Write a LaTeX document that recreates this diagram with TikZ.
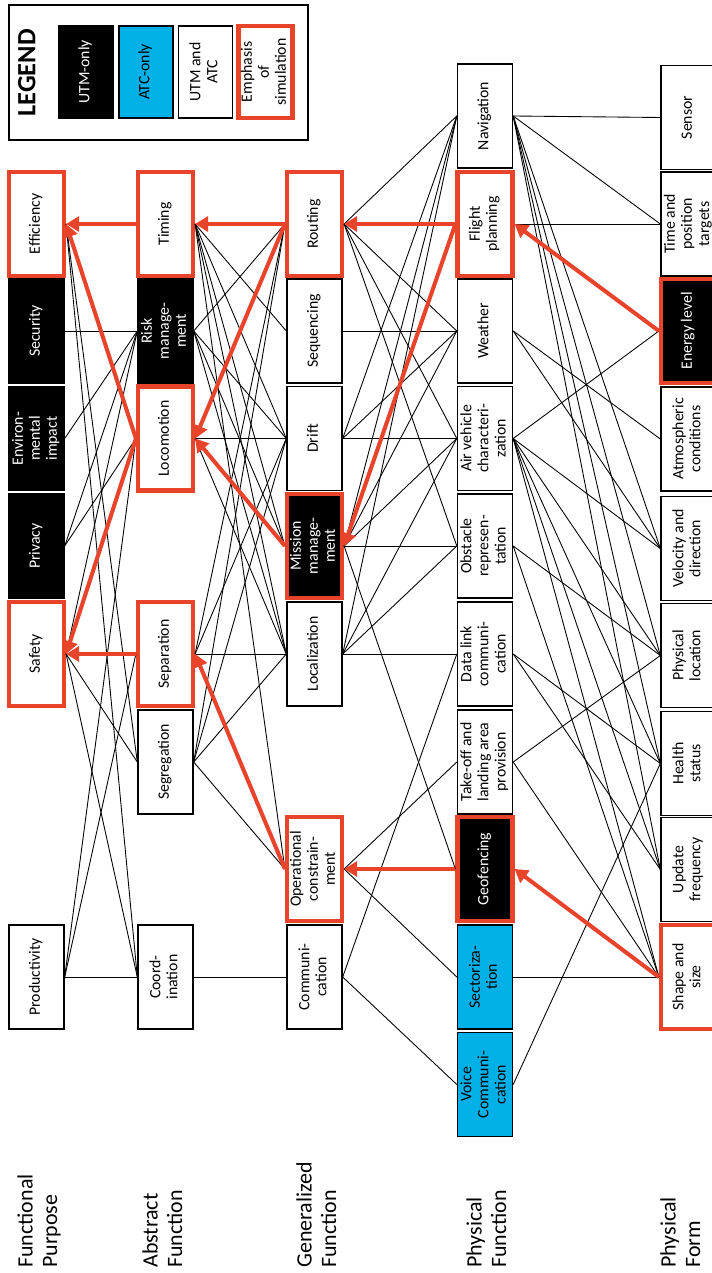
\documentclass[tikz,border=0pt]{standalone}
\usepackage{fontspec}
\setmainfont{Carlito}
\usepackage{tikz}
\usetikzlibrary{arrows.meta}
\definecolor{simred}{RGB}{232,68,44}
\definecolor{atcblue}{RGB}{0,176,230}
\newcommand{\vt}[1]{\rotatebox{90}{\begin{tabular}{@{}c@{}}#1\end{tabular}}}
\newcommand{\vl}[1]{\rotatebox{90}{\begin{tabular}{@{}l@{}}#1\end{tabular}}}
\renewcommand{\arraystretch}{0.9}
\tikzset{
  box/.style={draw, line width=0.8pt, fill=white, minimum width=1.1cm, minimum height=2.08cm, inner sep=0pt, font=\fontsize{9}{10.8}\selectfont},
  utm/.style={box, fill=black, text=white},
  atc/.style={box, fill=atcblue},
  emph/.style={draw=simred, line width=2.4pt},
  link/.style={line width=0.5pt},
  sim/.style={draw=simred, line width=2.3pt, -{Triangle[length=2.6mm,width=3mm]}},
  lvl/.style={inner sep=0pt, font=\fontsize{12.5}{15.5}\selectfont}
}
\begin{document}
\begin{tikzpicture}[x=0.02cm, y=-0.02cm]
\useasboundingbox (0,0) rectangle (712,1273);

\draw[line width=1.6pt] (9,5) rectangle (308,140);
\node[inner sep=0pt, font=\fontsize{15}{17}\selectfont\bfseries] (legend) at (30,73) {\vt{LEGEND}};
\node[utm, minimum height=1.84cm, minimum width=1.08cm] (kutm) at (86,72) {\vt{UTM-only}};
\node[atc, minimum height=1.84cm, minimum width=1.08cm] (katc) at (146,72) {\vt{ATC-only}};
\node[box, minimum height=1.84cm, minimum width=1.08cm] (kboth) at (205.5,72) {\vt{UTM and\\ATC}};
\node[box, emph, minimum height=1.84cm, minimum width=1.08cm] (ksim) at (265.5,72) {\vt{Emphasis\\of\\simulation}};

\node[box, emph] (eff) at (36.5,224) {\vt{Efficiency}};
\node[utm] (sec) at (36.5,331) {\vt{Security}};
\node[utm] (env) at (36.5,438.5) {\vt{Environ-\\mental\\impact}};
\node[utm] (priv) at (36.5,546) {\vt{Privacy}};
\node[box, emph] (safe) at (36.5,654) {\vt{Safety}};
\node[box] (prod) at (36.5,977) {\vt{Productivity}};

\node[box, emph] (tim) at (165.5,224) {\vt{Timing}};
\node[utm] (risk) at (165.5,331) {\vt{Risk\\manage-\\ment}};
\node[box, emph] (loco) at (165.5,438.5) {\vt{Locomotion}};
\node[box, emph] (sep) at (165.5,654) {\vt{Separation}};
\node[box] (seg) at (165.5,762) {\vt{Segregation}};
\node[box] (coord) at (165.5,977) {\vt{Coord-\\ination}};

\node[box, emph] (rout) at (314.5,224) {\vt{Routing}};
\node[box] (seq) at (314.5,331) {\vt{Sequencing}};
\node[box] (drift) at (314.5,438.5) {\vt{Drift}};
\node[utm, emph] (miss) at (314.5,546) {\vt{Mission\\manage-\\ment}};
\node[box] (loc) at (314.5,654) {\vt{Localization}};
\node[box, emph] (opc) at (314.5,869) {\vt{Operational\\constrain-\\ment}};
\node[box] (comm) at (314.5,977) {\vt{Communi-\\cation}};

\node[box] (nav) at (485,116) {\vt{Navigation}};
\node[box, emph] (fp) at (485,224) {\vt{Flight\\planning}};
\node[box] (wea) at (485,331) {\vt{Weather}};
\node[box] (air) at (485,438.5) {\vt{Air vehicle\\characteri-\\zation}};
\node[box] (obs) at (485,546) {\vt{Obstacle\\represen-\\tation}};
\node[box] (dl) at (485,654) {\vt{Data link\\communi-\\cation}};
\node[box] (tol) at (485,762) {\vt{Take-off and\\landing area\\provision}};
\node[utm, emph] (geo) at (485,869) {\vt{Geofencing}};
\node[atc] (sect) at (485,977) {\vt{Sectoriza-\\tion}};
\node[atc] (voice) at (485,1084.5) {\vt{Voice\\Communi-\\cation}};

\node[box] (sens) at (688.5,117.5) {\vt{Sensor}};
\node[box] (tpt) at (688.5,224) {\vt{Time and\\position\\targets}};
\node[utm, emph] (ener) at (688.5,331) {\vt{Energy level}};
\node[box] (atm) at (688.5,439) {\vt{Atmospheric\\conditions}};
\node[box] (vel) at (688.5,548.5) {\vt{Velocity and\\direction}};
\node[box] (phl) at (688.5,655.5) {\vt{Physical\\location}};
\node[box] (hea) at (688.5,763.5) {\vt{Health\\status}};
\node[box] (upd) at (688.5,869.5) {\vt{Update\\frequency}};
\node[box, emph] (shp) at (688.5,977) {\vt{Shape and\\size}};

\node[lvl, anchor=south] (lfp) at (40,1268) {\vl{Functional\\Purpose}};
\node[lvl, anchor=south] (laf) at (165,1268) {\vl{Abstract\\Function}};
\node[lvl, anchor=south] (lgf) at (319,1268) {\vl{Generalized\\Function}};
\node[lvl, anchor=south] (lpfu) at (489,1268) {\vl{Physical\\Function}};
\node[lvl, anchor=south] (lpfo) at (683,1268) {\vl{Physical\\Form}};

\draw[link] (sec.east) -- (risk.west);
\draw[link] (env.east) -- (risk.west);
\draw[link] (priv.east) -- (risk.west);
\draw[link] (priv.east) -- (loco.west);
\draw[link] (safe.east) -- (risk.west);
\draw[link] (safe.east) -- (seg.west);
\draw[link] (safe.east) -- (coord.west);
\draw[link] (eff.east) -- (seg.west);
\draw[link] (eff.east) -- (coord.west);
\draw[link] (prod.east) -- (coord.west);
\draw[link] (prod.east) -- (sep.west);
\draw[link] (prod.east) -- (loco.west);

\draw[link] (coord.east) -- (comm.west);
\draw[link] (sep.east) -- (loc.west);
\draw[link] (loco.east) -- (drift.west);
\draw[link] (tim.east) -- (seq.west);
\draw[link] (tim.east) -- (drift.west);
\draw[link] (tim.east) -- (miss.west);
\draw[link] (tim.east) -- (loc.west);
\draw[link] (tim.east) -- (opc.west);
\draw[link] (risk.east) -- (rout.west);
\draw[link] (risk.east) -- (drift.west);
\draw[link] (risk.east) -- (miss.west);
\draw[link] (risk.east) -- (loc.west);
\draw[link] (loco.east) -- (miss.west);
\draw[link] (loco.east) -- (loc.west);
\draw[link] (sep.east) -- (rout.west);
\draw[link] (sep.east) -- (drift.west);
\draw[link] (seg.east) -- (rout.west);
\draw[link] (seg.east) -- (loc.west);
\draw[link] (seg.east) -- (opc.west);
\draw[link] (seg.east) -- (drift.west);

\draw[link] (rout.east) -- (nav.west);
\draw[link] (rout.east) -- (wea.west);
\draw[link] (rout.east) -- (air.west);
\draw[link] (rout.east) -- (obs.west);
\draw[link] (seq.east) -- (wea.west);
\draw[link] (drift.east) -- (air.west);
\draw[link] (drift.east) -- (wea.west);
\draw[link] (drift.east) -- (nav.west);
\draw[link] (miss.east) -- (obs.west);
\draw[link] (miss.east) -- (air.west);
\draw[link] (miss.east) -- (wea.west);
\draw[link] (miss.east) -- (geo.west);
\draw[link] (miss.east) -- (nav.west);
\draw[link] (loc.east) -- (dl.west);
\draw[link] (loc.east) -- (obs.west);
\draw[link] (loc.east) -- (air.west);
\draw[link] (loc.east) -- (nav.west);
\draw[link] (opc.east) -- (tol.west);
\draw[link] (opc.east) -- (sect.west);
\draw[link] (comm.east) -- (dl.west);
\draw[link] (comm.east) -- (voice.west);

\draw[link] (nav.east) -- (sens.west);
\draw[link] (nav.east) -- (tpt.west);
\draw[link] (nav.east) -- (vel.west);
\draw[link] (nav.east) -- (phl.west);
\draw[link] (nav.east) -- (hea.west);
\draw[link] (nav.east) -- (upd.west);
\draw[link] (fp.east) -- (tpt.west);
\draw[link] (wea.east) -- (atm.west);
\draw[link] (wea.east) -- (vel.west);
\draw[link] (air.east) -- (ener.west);
\draw[link] (air.east) -- (vel.west);
\draw[link] (air.east) -- (phl.west);
\draw[link] (air.east) -- (hea.west);
\draw[link] (air.east) -- (upd.west);
\draw[link] (air.east) -- (shp.west);
\draw[link] (obs.east) -- (phl.west);
\draw[link] (obs.east) -- (shp.west);
\draw[link] (dl.east) -- (hea.west);
\draw[link] (dl.east) -- (upd.west);
\draw[link] (tol.east) -- (phl.west);
\draw[link] (tol.east) -- (shp.west);
\draw[link] (sect.east) -- (shp.west);
\draw[link] (voice.east) -- (hea.west);

\draw[sim] (tim.west) -- (eff.east);
\draw[sim] (loco.west) -- (eff.east);
\draw[sim] (loco.west) -- (safe.east);
\draw[sim] (sep.west) -- (safe.east);
\draw[sim] (rout.west) -- (tim.east);
\draw[sim] (rout.west) -- (loco.east);
\draw[sim] (miss.west) -- (loco.east);
\draw[sim] (opc.west) -- (sep.east);
\draw[sim] (fp.west) -- (rout.east);
\draw[sim] (fp.west) -- (miss.east);
\draw[sim] (geo.west) -- (opc.east);
\draw[sim] (ener.west) -- (fp.east);
\draw[sim] (shp.west) -- (geo.east);
\end{tikzpicture}
\end{document}
